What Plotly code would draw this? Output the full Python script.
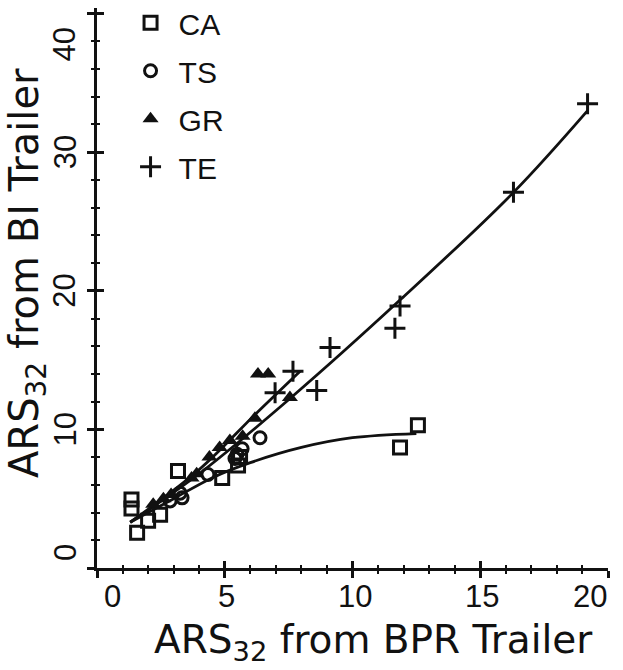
import plotly.graph_objects as go

# ---- data ----
ca_x = [1.35, 1.35, 1.57, 2.0, 2.47, 3.17, 4.9, 5.52, 5.6, 11.86, 12.56]
ca_y = [4.95, 4.3, 2.55, 3.4, 3.85, 7.0, 6.5, 7.4, 8.0, 8.7, 10.3]

ts_x = [2.86, 3.25, 3.33, 4.34, 5.4, 5.48, 5.68, 6.38]
ts_y = [4.84, 5.4, 5.06, 6.75, 7.9, 8.2, 8.6, 9.4]

gr_x = [2.2, 2.6, 2.9, 3.7, 3.9, 4.4, 4.8, 5.2, 5.7, 6.18, 6.3, 6.7, 7.55]
gr_y = [4.6, 5.0, 5.3, 6.5, 6.8, 8.0, 8.7, 9.2, 9.5, 10.8, 14.0, 14.0, 12.3]

te_x = [6.97, 7.67, 8.6, 9.12, 11.66, 11.86, 16.3, 19.2]
te_y = [12.65, 14.2, 12.8, 15.9, 17.3, 18.9, 27.1, 33.5]

# fitted curves
fit_te_x = [1.3, 4.0, 7.6, 11.9, 16.3, 19.2]
fit_te_y = [3.3, 6.8, 12.3, 19.4, 27.1, 33.0]
fit_gr_x = [1.3, 4.0, 6.2, 7.95]
fit_gr_y = [3.3, 7.1, 11.1, 14.2]
fit_ca_x = [1.3, 3.0, 4.5, 6.0, 8.0, 10.0, 12.5]
fit_ca_y = [3.3, 5.0, 6.5, 7.6, 8.7, 9.4, 9.7]

x_ticks = [0, 5, 10, 15, 20]
y_ticks = [0, 10, 20, 30, 40]
x_tick_labels = ["0", "5", "10", "15", "20"]
y_tick_labels = ["0", "10", "20", "30", "40"]

FONT = "Liberation Sans"
TFONT = "DejaVu Sans"
BLACK = "#111111"

fig = go.Figure()

for fx, fy in [(fit_te_x, fit_te_y), (fit_gr_x, fit_gr_y), (fit_ca_x, fit_ca_y)]:
    fig.add_trace(go.Scatter(x=fx, y=fy, mode="lines", line=dict(color=BLACK, width=2.8, shape="spline"),
                             showlegend=False, hoverinfo="skip"))

fig.add_trace(go.Scatter(x=ca_x, y=ca_y, mode="markers", name="CA", legendgroup="ca",
                         marker=dict(symbol="square-open", size=13, color=BLACK, line=dict(width=3, color=BLACK))))
fig.add_trace(go.Scatter(x=ts_x, y=ts_y, mode="markers", name="TS", legendgroup="ts",
                         marker=dict(symbol="circle-open", size=12, color=BLACK, line=dict(width=3, color=BLACK))))
fig.add_trace(go.Scatter(x=gr_x, y=gr_y, mode="markers", name="GR", legendgroup="gr",
                         marker=dict(symbol="triangle-up", size=14, color=BLACK, line=dict(width=0))))
fig.add_trace(go.Scatter(x=te_x, y=te_y, mode="markers", name="TE", legendgroup="te",
                         marker=dict(symbol="cross-thin", size=15, color=BLACK, line=dict(width=3, color=BLACK))))

# empty trace to activate mirrored (inside-tick) axes
fig.add_trace(go.Scatter(x=[], y=[], xaxis="x2", yaxis="y2", showlegend=False))

axis_common = dict(showgrid=False, zeroline=False, color=BLACK)

fig.update_layout(
    width=623, height=670,
    margin=dict(l=97, r=15, t=8, b=102, autoexpand=False),
    paper_bgcolor="white", plot_bgcolor="white",
    font=dict(family=FONT, color=BLACK),
    xaxis=dict(range=[0, 20], tickvals=x_ticks, showticklabels=False, ticks="outside", ticklen=7, tickwidth=2.5,
               tickcolor=BLACK, showline=True, linewidth=3, linecolor=BLACK,
               minor=dict(dtick=1, ticks="outside", ticklen=3, tickwidth=2, tickcolor=BLACK), **axis_common),
    yaxis=dict(range=[0, 40.4], tickvals=y_ticks, showticklabels=False, ticks="outside", ticklen=7, tickwidth=2.5,
               tickcolor=BLACK, showline=True, linewidth=3, linecolor=BLACK,
               minor=dict(dtick=2, ticks="outside", ticklen=3, tickwidth=2, tickcolor=BLACK), **axis_common),
    xaxis2=dict(overlaying="x", matches="x", anchor="y2", tickvals=x_ticks, showticklabels=False, ticks="inside",
                ticklen=7, tickwidth=2.5, tickcolor=BLACK, showline=False,
                minor=dict(dtick=1, ticks="inside", ticklen=3, tickwidth=2, tickcolor=BLACK), **axis_common),
    yaxis2=dict(overlaying="y", matches="y", anchor="x2", tickvals=y_ticks, showticklabels=False, ticks="inside",
                ticklen=7, tickwidth=2.5, tickcolor=BLACK, showline=False,
                minor=dict(dtick=2, ticks="inside", ticklen=3, tickwidth=2, tickcolor=BLACK), **axis_common),
    legend=dict(x=0.05, y=1.02, xanchor="left", yanchor="top", font=dict(size=30, family=FONT, color=BLACK),
                traceorder="grouped", tracegroupgap=6, itemwidth=46, bgcolor="rgba(0,0,0,0)"),
    showlegend=True,
)

# tick labels
x_shift = {0: 15, 20: -18}
for v, t in zip(x_ticks, x_tick_labels):
    fig.add_annotation(x=v, y=0, xref="x", yref="paper", text=t, showarrow=False,
                       xanchor="center", yanchor="middle", yshift=-28, xshift=x_shift.get(v, 2),
                       font=dict(size=31, family=FONT, color=BLACK))
y_shift = {0: 15, 40: -31}
for v, t in zip(y_ticks, y_tick_labels):
    fig.add_annotation(x=0, y=v, xref="paper", yref="y", text=t, showarrow=False, textangle=-90,
                       xanchor="center", yanchor="middle", xshift=-32, yshift=y_shift.get(v, 0),
                       font=dict(size=31, family=FONT, color=BLACK))

# axis titles
fig.add_annotation(x=0.542, y=0, xref="paper", yref="paper", text="ARS<sub>32</sub> from BPR Trailer",
                   showarrow=False, xanchor="center", yanchor="middle", yshift=-74,
                   font=dict(size=39, family=TFONT, color=BLACK))
fig.add_annotation(x=0, y=0.5, xref="paper", yref="paper", text="ARS<sub>32</sub> from BI Trailer",
                   showarrow=False, textangle=-90, xanchor="center", yanchor="middle", xshift=-70, yshift=15,
                   font=dict(size=40, family=TFONT, color=BLACK))

fig.write_html("out.html")
